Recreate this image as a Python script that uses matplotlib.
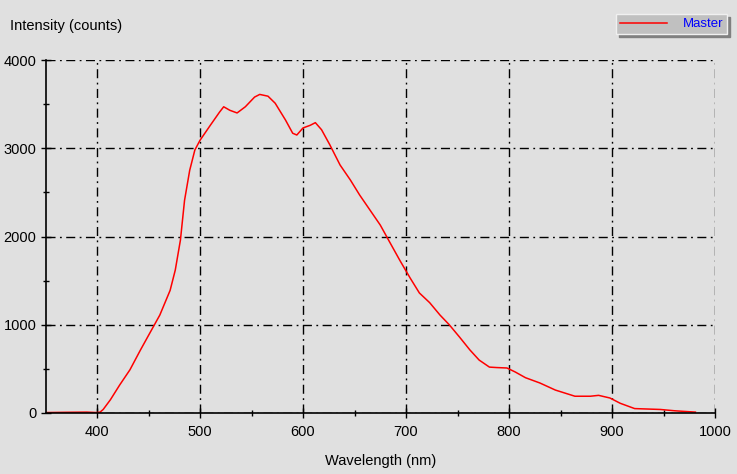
import numpy as np
import matplotlib.pyplot as plt

# spectrum
wavelength = [350, 370, 390, 400, 403, 406, 413, 422, 432, 442, 451, 461, 471, 476,
              481, 485, 490, 495, 500, 510, 519, 523, 529, 536, 544, 553, 558, 566,
              573, 583, 590, 594, 600, 607, 612, 618, 626, 636, 646, 655, 665, 675,
              684, 694, 704, 713, 723, 733, 742, 752, 762, 771, 781, 788, 798, 806,
              816, 830, 845, 864, 879, 887, 898, 908, 922, 947, 961, 981]
intensity = [5, 8, 10, 5, 10, 40, 150, 317, 490, 710, 900, 1110, 1390, 1620,
             1960, 2410, 2750, 2980, 3090, 3260, 3410, 3470, 3430, 3400, 3470, 3580, 3610, 3590,
             3510, 3320, 3170, 3150, 3230, 3260, 3290, 3210, 3040, 2810, 2640, 2470, 2300, 2130,
             1940, 1730, 1530, 1360, 1250, 1110, 1000, 860, 715, 600, 520, 515, 510, 465,
             400, 340, 260, 190, 190, 200, 170, 110, 50, 40, 25, 10]

xticks = [400, 500, 600, 700, 800, 900, 1000]
yticks = [0, 1000, 2000, 3000, 4000]

bg = '#e0e0e0'
plt.rcParams['font.family'] = ['Liberation Sans', 'DejaVu Sans']

fig = plt.figure(figsize=(7.37, 4.74), dpi=100, facecolor=bg)
ax = fig.add_axes([45.5 / 737, 61 / 474, 669.5 / 737, 353 / 474])
ax.set_facecolor(bg)

ax.plot(wavelength, intensity, color='red', lw=1.1, label='Master')

ax.set_xlim(350, 1000)
ax.set_ylim(0, 4000)
ax.set_xticks(xticks)
ax.set_yticks(yticks)
ax.set_xticks(np.arange(450, 1000, 100), minor=True)
ax.set_yticks(np.arange(500, 4000, 1000), minor=True)
ax.tick_params(which='major', direction='inout', length=7, width=1, labelsize=10.5, pad=3)
ax.tick_params(which='minor', direction='inout', length=5, width=1)
ax.tick_params(axis='x', which='major', pad=5)

for s in ['top', 'right']:
    ax.spines[s].set_visible(False)
for s in ['left', 'bottom']:
    ax.spines[s].set_linewidth(1.2)

ax.grid(True, which='major', color='black', linestyle=(0, (6.5, 3.2, 1.3, 3.2)), linewidth=1)
ax.set_axisbelow(True)

fig.text(10 / 737, 1 - 26 / 474, 'Intensity (counts)', fontsize=10.5, va='center', ha='left')
ax.set_xlabel('Wavelength (nm)', fontsize=10.5, labelpad=11)

leg = fig.legend(loc='upper right', bbox_to_anchor=(727 / 737, 1 - 14 / 474),
                 borderaxespad=0, fontsize=9.5, handlelength=3.6, handletextpad=1.15,
                 fancybox=False, shadow={'color': '#808080', 'alpha': 1, 'ox': 2, 'oy': -2},
                 facecolor='#c0c0c0', edgecolor='#f0f0f0',
                 framealpha=1, borderpad=0.3, labelcolor='blue')
leg.get_frame().set_linewidth(1)

fig.savefig('out.png', dpi=100, facecolor=bg)
